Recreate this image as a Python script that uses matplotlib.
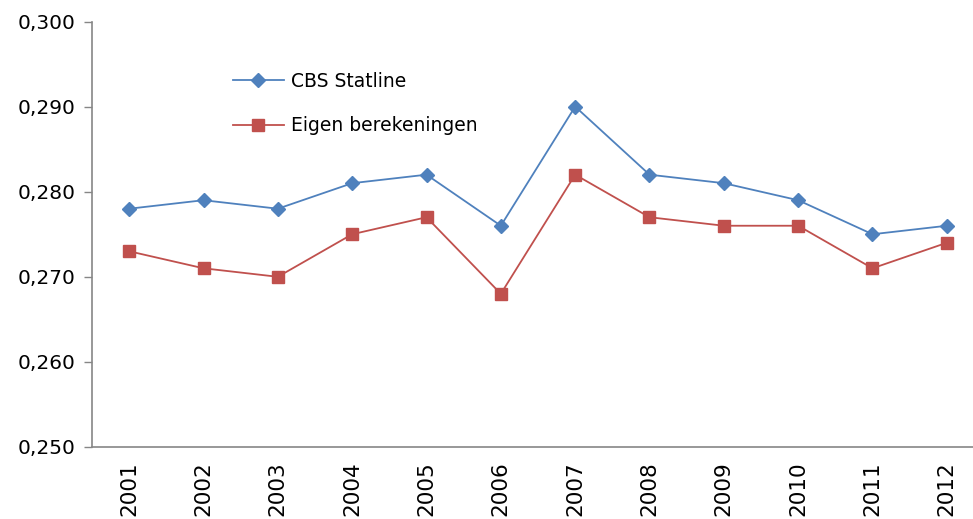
import matplotlib
matplotlib.use("Agg")
import matplotlib.pyplot as plt
from matplotlib.ticker import FuncFormatter

years = ["2001", "2002", "2003", "2004", "2005", "2006", "2007", "2008", "2009", "2010", "2011", "2012"]
cbs = [0.278, 0.279, 0.278, 0.281, 0.282, 0.276, 0.290, 0.282, 0.281, 0.279, 0.275, 0.276]
eigen = [0.273, 0.271, 0.270, 0.275, 0.277, 0.268, 0.282, 0.277, 0.276, 0.276, 0.271, 0.274]
yticks = [0.250, 0.260, 0.270, 0.280, 0.290, 0.300]

plt.rcParams['font.family'] = ['DejaVu Sans']
fig = plt.figure(figsize=(9.73, 5.19), dpi=100)
ax = fig.add_axes([92/973, (519-447)/519, (984-92)/973, (447-21.5)/519])

x = list(range(len(years)))
ax.plot(x, cbs, color='#4F81BD', lw=1.3, marker='D', ms=7, mfc='#4F81BD', mec='#4F81BD', label='CBS Statline')
ax.plot(x, eigen, color='#C0504D', lw=1.3, marker='s', ms=8.5, mfc='#C0504D', mec='#C0504D', label='Eigen berekeningen')

ax.set_xlim(-0.5, len(years) - 0.5)
ax.set_ylim(0.250, 0.300)
ax.set_yticks(yticks)
ax.yaxis.set_major_formatter(FuncFormatter(lambda v, p: f"{v:.3f}".replace('.', ',')))
ax.set_xticks(x)
ax.set_xticklabels(years, rotation=90, fontsize=15.5)
ax.tick_params(axis='y', labelsize=14.5, length=6, width=1, color='#868686', pad=6)
ax.tick_params(axis='x', length=0, pad=10)
for s in ['top', 'right']:
    ax.spines[s].set_visible(False)
for s in ['left', 'bottom']:
    ax.spines[s].set_color('#868686')
    ax.spines[s].set_linewidth(1.2)

leg = ax.legend(loc='upper left', bbox_to_anchor=(233/973, (519-72)/519), bbox_transform=fig.transFigure,
                frameon=False, fontsize=13.5, handlelength=2.7, handletextpad=0.4, labelspacing=1.35,
                borderpad=0, borderaxespad=0)

fig.savefig("out.png", dpi=100)
